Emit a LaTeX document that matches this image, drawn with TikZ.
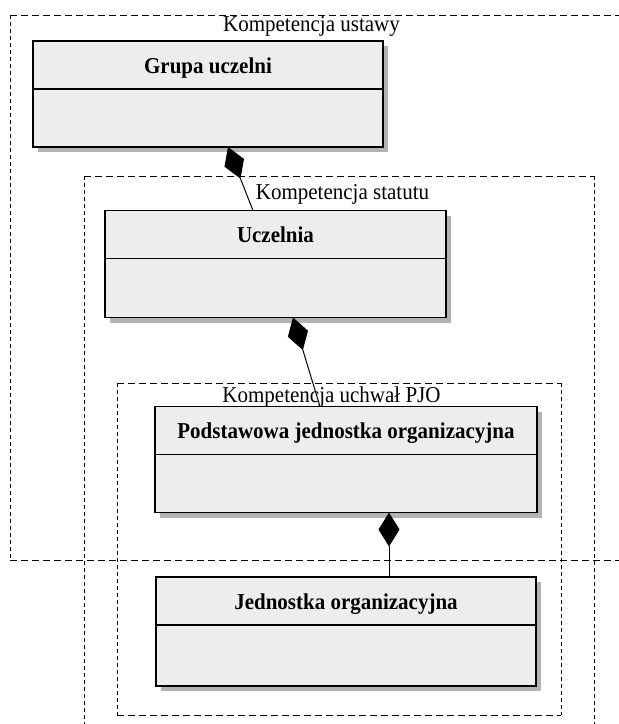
\documentclass[tikz,border=0pt]{standalone}
\usepackage{fontspec}
\usepackage{graphicx}
\setmainfont{Liberation Serif}
\usetikzlibrary{arrows.meta,backgrounds,calc}
\definecolor{boxfill}{RGB}{236,237,236}
\definecolor{shadowgray}{RGB}{178,178,183}
\newcommand{\tallText}[1]{\scalebox{1}[1.08]{#1}}
\tikzset{
  hdr/.style={draw=black, line width=1.3pt, fill=boxfill, inner sep=0pt, outer sep=0pt,
    minimum height=48pt, text height=16pt, text depth=0pt,
    font=\fontsize{21}{25}\selectfont\bfseries},
  bdy/.style={draw=black, line width=1.3pt, fill=boxfill, inner sep=0pt, outer sep=0pt,
    anchor=north},
  framelabel/.style={inner sep=0pt, anchor=base, font=\fontsize{21}{25}\selectfont},
  hdash/.style={line width=1pt, dash pattern=on 7pt off 4pt},
  vdash/.style={line width=1pt, dash pattern=on 4pt off 3pt},
  comp/.style={line width=1pt, -{Diamond[length=34pt,width=21pt]}},
  shadowbox/.style={fill=shadowgray}
}
\begin{document}
\begin{tikzpicture}[x=1pt,y=-1pt]
\useasboundingbox (0,0) rectangle (619,724);
\clip (0,0) rectangle (619,724);

% frames
\draw[hdash] (10,15) -- (640,15);
\draw[hdash] (10,560) -- (640,560);
\draw[vdash] (10,15) -- (10,560);

\draw[hdash] (84,176) -- (594,176);
\draw[vdash] (84,176) -- (84,740);
\draw[vdash] (594,176) -- (594,740);

\draw[hdash] (117,383) -- (561,383);
\draw[hdash] (117,715) -- (561,715);
\draw[vdash] (117,383) -- (117,715);
\draw[vdash] (561,383) -- (561,715);

% boxes
\node[hdr, minimum width=350pt] (grupaH) at (208,65) {\tallText{Grupa uczelni}};
\node[bdy, minimum width=350pt, minimum height=58pt] (grupaB) at (grupaH.south) {};

\node[hdr, minimum width=341pt] (uczH) at (275.5,234.5) {\tallText{Uczelnia}};
\node[bdy, minimum width=341pt, minimum height=59pt] (uczB) at (uczH.south) {};

\node[hdr, minimum width=382pt] (pjoH) at (346,430.5) {\tallText{Podstawowa jednostka organizacyjna}};
\node[bdy, minimum width=382pt, minimum height=58pt] (pjoB) at (pjoH.south) {};

\node[hdr, minimum width=380pt] (jednH) at (346,601) {\tallText{Jednostka organizacyjna}};
\node[bdy, minimum width=380pt, minimum height=61pt] (jednB) at (jednH.south) {};

\begin{scope}[on background layer]
\fill[shadowbox] ([shift={(5,5)}]grupaH.north west) rectangle ([shift={(5,5)}]grupaB.south east);
\fill[shadowbox] ([shift={(5,5)}]uczH.north west) rectangle ([shift={(5,5)}]uczB.south east);
\fill[shadowbox] ([shift={(5,5)}]pjoH.north west) rectangle ([shift={(5,5)}]pjoB.south east);
\fill[shadowbox] ([shift={(5,5)}]jednH.north west) rectangle ([shift={(5,5)}]jednB.south east);
\end{scope}

% frame labels
\node[framelabel] (lab1) at (311.5,31) {\tallText{Kompetencja ustawy}};
\node[framelabel] (lab2) at (342.5,199) {\tallText{Kompetencja statutu}};
\node[framelabel] (lab3) at (331.5,402) {\tallText{Kompetencja uchwał PJO}};

% composition connectors
\draw[comp] ($(uczH.north)+(-22.5,0)$) -- ($(grupaB.south)+(20,0)$);
\draw[comp] ($(pjoH.north)+(-26,0)$) -- ($(uczB.south)+(17.5,0)$);
\draw[comp] ($(jednH.north)+(43,0)$) -- ($(pjoB.south)+(43,0)$);
\end{tikzpicture}
\end{document}
